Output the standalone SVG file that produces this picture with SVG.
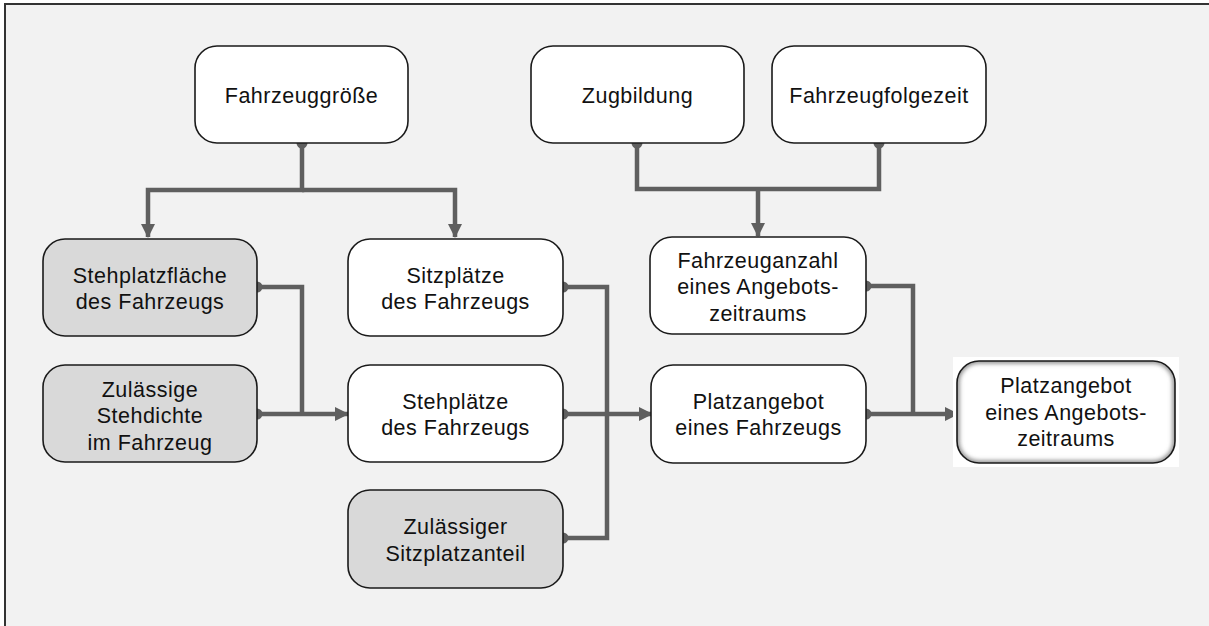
<svg xmlns="http://www.w3.org/2000/svg" width="1209" height="626" viewBox="0 0 1209 626">
  <style>
    .box { fill: #ffffff; stroke: #1a1a1a; stroke-width: 1.6; }
    .box.input { fill: #d9d9d9; }
    .lbl { font-family: "Liberation Sans", Arial, sans-serif; font-size: 21.5px; letter-spacing: 0.5px; fill: #111111; text-anchor: middle; }
    .wire { fill: none; stroke: #5f5f5f; stroke-width: 4.5; stroke-linejoin: miter; }
    .dot { fill: #5f5f5f; }
  </style>
  <defs>
    <marker id="arrow" viewBox="0 0 14 14" refX="13" refY="7" markerWidth="14" markerHeight="14" orient="auto" markerUnits="userSpaceOnUse">
      <path d="M0,0 L14,7 L0,14 z" fill="#5f5f5f"/>
    </marker>
    <filter id="soft" x="-5%" y="-5%" width="110%" height="110%">
      <feGaussianBlur stdDeviation="2"/>
    </filter>
    <clipPath id="resultClip">
      <rect x="957" y="361" width="218" height="102" rx="22"/>
    </clipPath>
  </defs>

  <!-- page frame -->
  <rect x="0" y="0" width="1209" height="626" fill="#ffffff"/>
  <rect x="5" y="4" width="1215" height="630" fill="#f2f2f2" stroke="#333333" stroke-width="2"/>

  <!-- connectors -->
  <g id="connectors">
    <path class="wire" d="M302,143 V190 H148 V237" marker-end="url(#arrow)"/>
    <path class="wire" d="M302,190 H455 V237" marker-end="url(#arrow)"/>
    <path class="wire" d="M637,143 V189 H879 V143"/>
    <path class="wire" d="M758,189 V236" marker-end="url(#arrow)"/>
    <path class="wire" d="M257,287 H302 V414"/>
    <path class="wire" d="M257,414 H348" marker-end="url(#arrow)"/>
    <path class="wire" d="M563,287 H607 V538 H563"/>
    <path class="wire" d="M563,414 H652" marker-end="url(#arrow)"/>
    <path class="wire" d="M866,286 H913 V414"/>
    <path class="wire" d="M866,414 H958" marker-end="url(#arrow)"/>
    <circle class="dot" cx="302" cy="143" r="5.5"/>
    <circle class="dot" cx="637" cy="143" r="5.5"/>
    <circle class="dot" cx="879" cy="143" r="5.5"/>
    <circle class="dot" cx="257" cy="287" r="5.5"/>
    <circle class="dot" cx="257" cy="414" r="5.5"/>
    <circle class="dot" cx="563" cy="287" r="5.5"/>
    <circle class="dot" cx="563" cy="414" r="5.5"/>
    <circle class="dot" cx="563" cy="538" r="5.5"/>
    <circle class="dot" cx="866" cy="286" r="5.5"/>
    <circle class="dot" cx="866" cy="414" r="5.5"/>
  </g>

  <g id="fahrzeuggroesse">
    <rect class="box" x="195" y="46" width="213" height="97" rx="22"/>
    <text class="lbl" x="301.5" y="102.5">Fahrzeuggröße</text>
  </g>

  <g id="zugbildung">
    <rect class="box" x="531" y="46" width="213" height="97" rx="22"/>
    <text class="lbl" x="637.5" y="102.5">Zugbildung</text>
  </g>

  <g id="fahrzeugfolgezeit">
    <rect class="box" x="772" y="46" width="214" height="97" rx="22"/>
    <text class="lbl" x="879" y="102.5">Fahrzeugfolgezeit</text>
  </g>

  <g id="stehplatzflaeche">
    <rect class="box input" x="43" y="239" width="214" height="97" rx="22"/>
    <text class="lbl" x="150" y="282.5">Stehplatzfläche</text>
    <text class="lbl" x="150" y="309.2">des Fahrzeugs</text>
  </g>

  <g id="stehdichte">
    <rect class="box input" x="43" y="365" width="214" height="97" rx="22"/>
    <text class="lbl" x="150" y="396.5">Zulässige</text>
    <text class="lbl" x="150" y="423">Stehdichte</text>
    <text class="lbl" x="150" y="449.5">im Fahrzeug</text>
  </g>

  <g id="sitzplaetze">
    <rect class="box" x="348" y="239" width="215" height="97" rx="22"/>
    <text class="lbl" x="455.5" y="282.5">Sitzplätze</text>
    <text class="lbl" x="455.5" y="309.2">des Fahrzeugs</text>
  </g>

  <g id="stehplaetze">
    <rect class="box" x="348" y="365" width="215" height="97" rx="22"/>
    <text class="lbl" x="455.5" y="408.5">Stehplätze</text>
    <text class="lbl" x="455.5" y="435.2">des Fahrzeugs</text>
  </g>

  <g id="sitzplatzanteil">
    <rect class="box input" x="348" y="490" width="215" height="98" rx="22"/>
    <text class="lbl" x="455.5" y="534">Zulässiger</text>
    <text class="lbl" x="455.5" y="560.7">Sitzplatzanteil</text>
  </g>

  <g id="fahrzeuganzahl">
    <rect class="box" x="650" y="237" width="216" height="97" rx="22"/>
    <text class="lbl" x="758" y="267.5">Fahrzeuganzahl</text>
    <text class="lbl" x="758" y="294">eines Angebots-</text>
    <text class="lbl" x="758" y="320.5">zeitraums</text>
  </g>

  <g id="platzangebot-fahrzeug">
    <rect class="box" x="651" y="365" width="215" height="98" rx="22"/>
    <text class="lbl" x="758.5" y="408.5">Platzangebot</text>
    <text class="lbl" x="758.5" y="435.2">eines Fahrzeugs</text>
  </g>

  <g id="platzangebot-zeitraum">
    <rect x="953" y="357" width="226" height="110" fill="#ffffff"/>
    <rect x="957" y="361" width="218" height="102" rx="22" fill="#ffffff"/>
    <rect x="957" y="361" width="218" height="102" rx="22" fill="none" stroke="#8a8a8a" stroke-width="5" filter="url(#soft)" clip-path="url(#resultClip)"/>
    <rect x="957" y="361" width="218" height="102" rx="22" fill="none" stroke="#1a1a1a" stroke-width="1.6"/>
    <text class="lbl" x="1066" y="393">Platzangebot</text>
    <text class="lbl" x="1066" y="419.5">eines Angebots-</text>
    <text class="lbl" x="1066" y="446">zeitraums</text>
  </g>
</svg>
